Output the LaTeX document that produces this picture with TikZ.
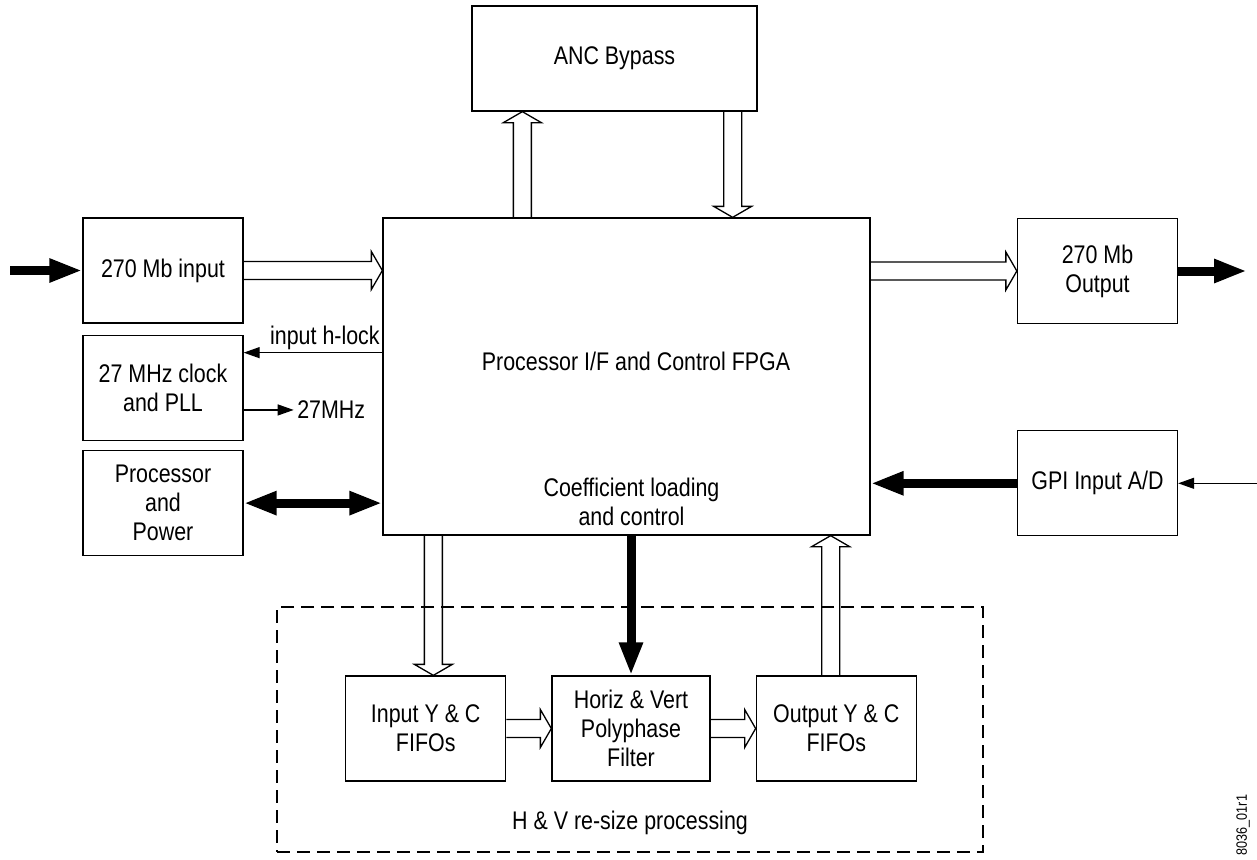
\documentclass[tikz,border=0pt]{standalone}
\usepackage{fontspec}
\setmainfont{Liberation Sans}[FakeStretch=0.84]
\usetikzlibrary{positioning, calc, arrows.meta}

\begin{document}
\begin{tikzpicture}[x=1pt, y=-1pt, font=\fontsize{25.5}{29}\selectfont,
		box/.style={draw, rectangle, align=center, line width=1.3pt, minimum width=160pt, minimum height=105pt, inner sep=2pt},
		txt/.style={align=center, inner sep=2pt},
		grp/.style={draw, rectangle, line width=1.3pt, dash pattern=on 13pt off 7pt},
		arrow/.style={line width=9pt, >={Triangle[length=33pt, width=22pt]}, ->},
		sig/.style={line width=1.3pt, >={Triangle[length=16pt, width=11pt]}, ->},
		bus/.style={line width=1.3pt, line join=miter, to path={let \p1=(\tikztostart), \p2=(\tikztotarget), \p3=($(\p2)!11pt!(\p1)$) in
				($(\p1)!9pt!90:(\p2)$) -- ($(\p3)!9pt!-90:(\p1)$) -- ($(\p3)!19pt!-90:(\p1)$) -- (\p2)
				-- ($(\p3)!19pt!90:(\p1)$) -- ($(\p3)!9pt!90:(\p1)$) -- ($(\p1)!9pt!-90:(\p2)$)}}]
	\useasboundingbox (0,0) rectangle (1257,859);

	% main blocks
	\node[box, minimum width=487pt, minimum height=317pt] (0) at (626.5,376.5) {};
	\node[txt] (0a) at ($(0.center)+(9.5,-15.5)$) {Processor I/F and Control FPGA};
	\node[txt] (0b) at ($(0.south)+(5,-34)$) {Coefficient loading\\and control};
	\node[box, minimum width=285pt] (3) at (614.5,58.5) {ANC Bypass};

	% left column
	\node[box] (1) at (163,270.5) {270 Mb input};
	\node[box, below=11pt of 1] (4) {27 MHz clock\\and PLL};
	\node[box, below=9pt of 4] (5) {Processor\\and\\Power};

	% right column
	\node[box] (2) at (1097.5,271) {270 Mb\\Output};
	\node[box, below=106pt of 2] (6) {GPI Input A/D};

	% re-size group
	\node[grp, minimum width=706pt, minimum height=245pt] (10) at (630,729.5) {};
	\node[txt] (10a) at ($(10.south)+(0,-30)$) {H \& V re-size processing};
	\node[box, minimum width=158pt] (8) at (631,728.5) {Horiz \& Vert\\Polyphase\\Filter};
	\node[box, left=45pt of 8] (7) {Input Y \& C\\FIFOs};
	\node[box, right=45pt of 8] (9) {Output Y \& C\\FIFOs};

	\node[rotate=90, inner sep=0pt, font=\fontsize{15}{17}\selectfont] (11) at (1243,825) {8036\_01r1};

	\coordinate (i) at (1.west -| 10,0);
	\coordinate (o) at (2.east -| 1247,0);
	\coordinate (g) at (6.east -| 1257,0);
	\coordinate (hl) at ([yshift=-18pt]4.north east);
	\coordinate (ck) at ([yshift=31pt]4.south east);
	\coordinate (ck2) at ($(ck)+(50,0)$);
	\coordinate (u) at ([xshift=140pt]0.north west);
	\coordinate (d) at ([xshift=-25pt]3.south east);
	\coordinate (f) at ([xshift=51pt]0.south west);
	\coordinate (q) at ([xshift=-40pt]0.south east);

	\draw[arrow] (i) -- (1.west);
	\draw[bus] (1.east) to (0.west |- 1.east);
	\draw[sig] (0.west |- hl) -- node[pos=0, above left, txt] {input h-lock} (hl);
	\draw[sig] (ck) -- (ck2) node[right, inner sep=3pt] {27MHz};
	\draw[arrow, <->] (5.east) -- (0.west |- 5.east);

	\draw[bus] (0.east |- 2.west) to (2.west);
	\draw[arrow] (2.east) -- (o);
	\draw[arrow] (6.west) -- (0.east |- 6.west);
	\draw[sig] (g) -- (6.east);

	\draw[bus] (u) to (u |- 3.south);
	\draw[bus] (d) to (d |- 0.north);

	\draw[bus] (f) to (f |- 7.north);
	\draw[arrow] (0.south -| 8.north) -- (8.north);
	\draw[bus] (q |- 9.north) to (q);
	\draw[bus] (7.east) to (8.west);
	\draw[bus] (8.east) to (9.west);
\end{tikzpicture}
\end{document}
